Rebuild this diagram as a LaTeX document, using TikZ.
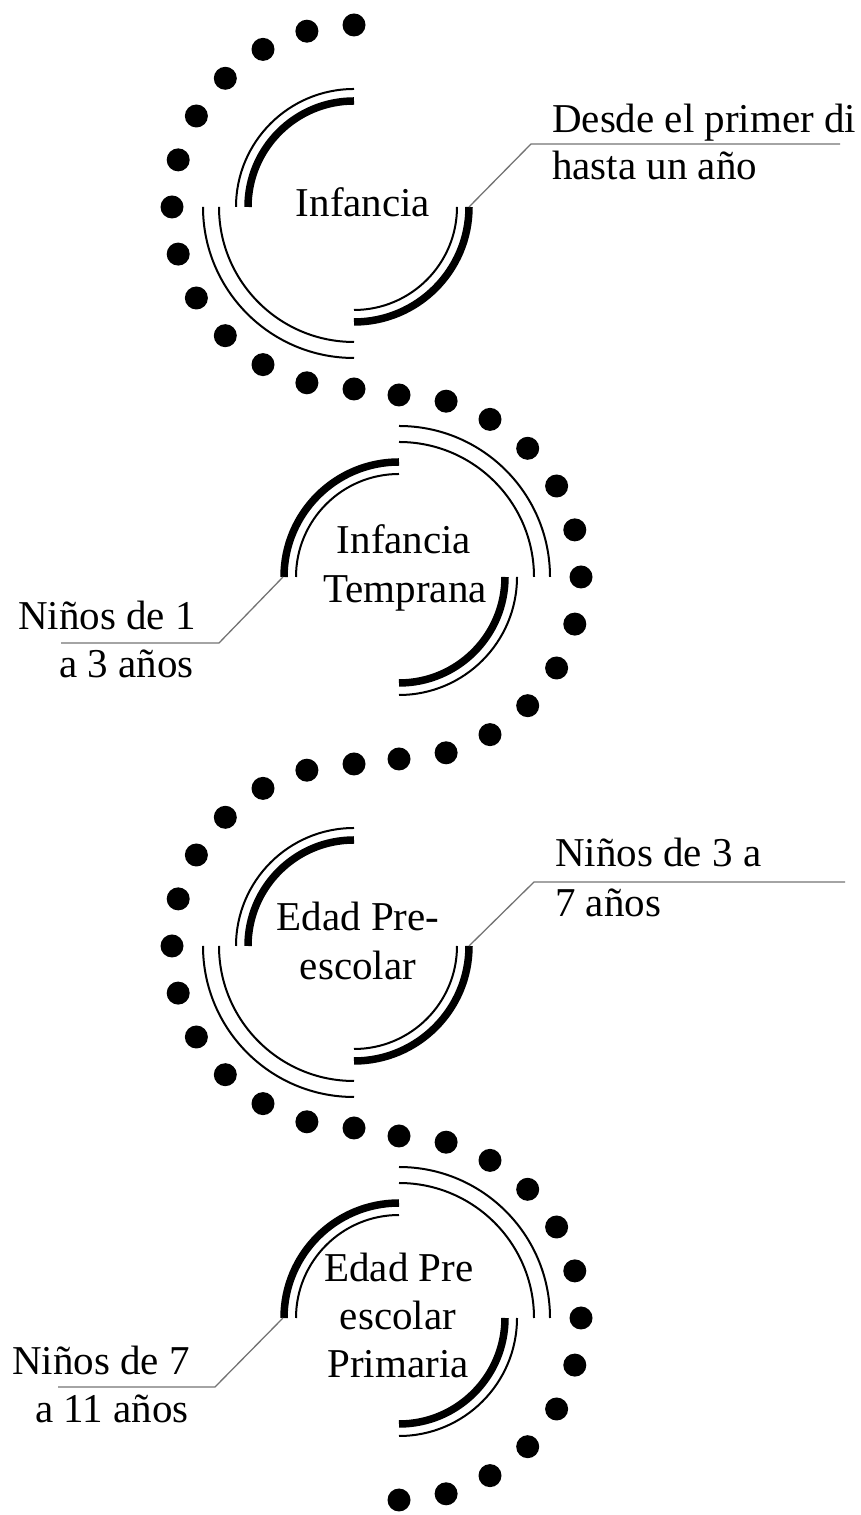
\documentclass[tikz,border=0pt]{standalone}
\usepackage{fontspec}
\setmainfont{Liberation Serif}
\tikzset{
  thinarc/.style={line width=2pt},
  thickarc/.style={line width=7.5pt},
  leader/.style={draw=black!55, line width=1.3pt},
  lbl/.style={font=\fontsize{41}{48}\selectfont, inner sep=0pt},
  stage/.pic={
    \draw[thickarc] (90:106) arc[start angle=90,end angle=180,radius=106];
    \draw[thinarc] (90:118) arc[start angle=90,end angle=180,radius=118];
    \draw[thinarc] (180:135) arc[start angle=180,end angle=270,radius=135];
    \draw[thinarc] (180:151) arc[start angle=180,end angle=270,radius=151];
    \draw[thinarc] (270:103) arc[start angle=270,end angle=360,radius=103];
    \draw[thickarc] (270:115) arc[start angle=270,end angle=360,radius=115];
    \foreach \a in {90,105,...,270} \fill (\a:182) circle[radius=11.5];
  }
}
\begin{document}
\begin{tikzpicture}[x=1pt,y=1pt]
\useasboundingbox (0,0) rectangle (860,1515);
% stages
\pic at (354,1308) {stage};
\pic[rotate=180] at (399,938) {stage};
\pic at (354,569) {stage};
\pic[rotate=180] at (399,197) {stage};
% centre texts
\node[lbl, anchor=base] (t1) at (363,1298) {Infancia};
\node[lbl, anchor=base] (t2a) at (404,961) {Infancia};
\node[lbl, anchor=base] (t2b) at (405,912) {Temprana};
\node[lbl, anchor=base] (t3a) at (358,584) {Edad Pre-};
\node[lbl, anchor=base] (t3b) at (358,535) {escolar};
\node[lbl, anchor=base] (t4a) at (399,233) {Edad Pre};
\node[lbl, anchor=base] (t4b) at (398,185) {escolar};
\node[lbl, anchor=base] (t4c) at (398,137) {Primaria};
% side labels
\node[lbl, anchor=base west] (l1a) at (552,1382) {Desde el primer di};
\node[lbl, anchor=base west] (l1b) at (552,1335) {hasta un año};
\node[lbl, anchor=base west] (l2a) at (18,885) {Niños de 1};
\node[lbl, anchor=base west] (l2b) at (59,837) {a 3 años};
\node[lbl, anchor=base west] (l3a) at (555,648) {Niños de 3 a};
\node[lbl, anchor=base west] (l3b) at (555,598) {7 años};
\node[lbl, anchor=base west] (l4a) at (12,140) {Niños de 7};
\node[lbl, anchor=base west] (l4b) at (35,92) {a 11 años};
% leader coordinates
\coordinate (s1) at (469,1308); \coordinate (k1) at (531,1371); \coordinate (e1) at (840,1371);
\coordinate (s2) at (283,938);  \coordinate (k2) at (219,872);  \coordinate (e2) at (61,872);
\coordinate (s3) at (469,569);  \coordinate (k3) at (534,633);  \coordinate (e3) at (845,633);
\coordinate (s4) at (283,197);  \coordinate (k4) at (215,128);  \coordinate (e4) at (58,128);
\draw[leader] (s1) -- (k1) -- (e1);
\draw[leader] (s2) -- (k2) -- (e2);
\draw[leader] (s3) -- (k3) -- (e3);
\draw[leader] (s4) -- (k4) -- (e4);
\end{tikzpicture}
\end{document}
